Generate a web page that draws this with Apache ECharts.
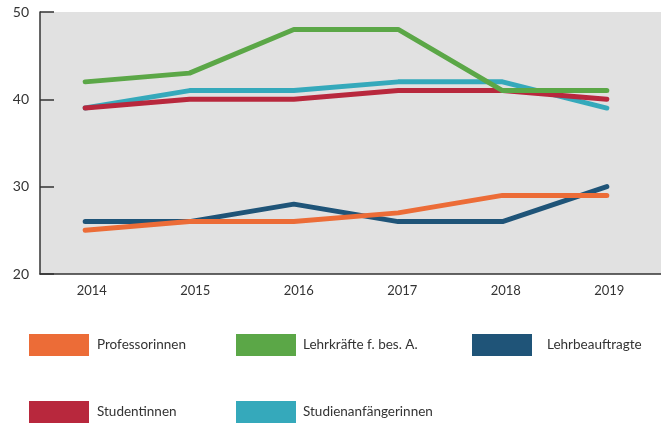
<!DOCTYPE html>
<html>
<head>
<meta charset="utf-8">
<script src="https://cdn.jsdelivr.net/npm/echarts@6/dist/echarts.min.js"></script>
<style>
  html, body { margin: 0; padding: 0; background: #fff; }
  #chart { width: 661px; height: 423px; }
</style>
</head>
<body>
<div id="chart"></div>
<script>
const years = ['2014', '2015', '2016', '2017', '2018', '2019']
const yTicks = [20, 30, 40, 50]

const professorinnen = [25, 26, 26, 27, 29, 29]
const lehrkraefte = [42, 43, 48, 48, 41, 41]
const lehrbeauftragte = [26, 26, 28, 26, 26, 30]
const studentinnen = [39, 40, 40, 41, 41, 40]
const studienanfaengerinnen = [39, 41, 41, 42, 42, 39]

const colors = {
  Professorinnen: '#ec6c37',
  'Lehrkräfte f. bes. A.': '#5ba747',
  Lehrbeauftragte: '#1f5478',
  Studentinnen: '#b8283d',
  'Studienanfängerinnen': '#35a9bb'
}

const font = 'Lato, "Open Sans", sans-serif'

// one line series
const line = (name, data, z) => ({
  name,
  type: 'line',
  data,
  xAxisIndex: 0,
  yAxisIndex: 0,
  z,
  symbol: 'none',
  color: colors[name],
  lineStyle: { width: 5, cap: 'round', join: 'round', color: colors[name] },
  itemStyle: { color: colors[name] }
})

// legend entries, placed one by one
const legendAt = (name, left, top, gap) => ({
  data: [{ name, icon: 'rect' }],
  left,
  top,
  padding: 0,
  itemWidth: 60,
  itemHeight: 22,
  textStyle: { fontFamily: font, fontSize: 13.5, color: '#333', padding: [0, 0, 0, gap] }
})

const option = {
  animation: false,
  grid: [
    // data grid, points centred as in the source
    { left: 33, right: 2, top: 12, bottom: 149 },
    // frame grid: gray panel, axes and ticks
    { left: 40, right: 0, top: 12, bottom: 149, show: true, backgroundColor: '#e1e1e1', borderWidth: 0 }
  ],
  xAxis: [
    {
      gridIndex: 0,
      type: 'category',
      data: years,
      boundaryGap: true,
      axisLine: { show: false },
      axisTick: { show: false },
      axisLabel: { show: false }
    },
    {
      gridIndex: 1,
      type: 'category',
      data: years,
      boundaryGap: true,
      axisLine: { lineStyle: { color: '#333', width: 1.5 } },
      axisTick: { inside: true, length: 7, lineStyle: { color: '#333', width: 1.5 } },
      axisLabel: { margin: 10, fontFamily: font, fontSize: 13, color: '#333' }
    }
  ],
  yAxis: [
    {
      gridIndex: 0,
      type: 'value',
      min: yTicks[0],
      max: yTicks[yTicks.length - 1],
      interval: 10,
      show: false
    },
    {
      gridIndex: 1,
      type: 'value',
      min: yTicks[0],
      max: yTicks[yTicks.length - 1],
      interval: 10,
      splitLine: { show: false },
      axisLine: { show: true, lineStyle: { color: '#333', width: 1.5 } },
      axisTick: { show: true, inside: true, length: 14, lineStyle: { color: '#333', width: 1.5 } },
      axisLabel: { margin: 11, fontFamily: font, fontSize: 14, color: '#333' }
    }
  ],
  legend: [
    legendAt('Professorinnen', 29, 334, 3),
    legendAt('Lehrkräfte f. bes. A.', 236, 334, 2),
    legendAt('Lehrbeauftragte', 472, 334, 10),
    legendAt('Studentinnen', 29, 401, 3),
    legendAt('Studienanfängerinnen', 236, 401, 2)
  ],
  series: [
    line('Lehrbeauftragte', lehrbeauftragte, 2),
    line('Professorinnen', professorinnen, 3),
    line('Studienanfängerinnen', studienanfaengerinnen, 4),
    line('Studentinnen', studentinnen, 5),
    line('Lehrkräfte f. bes. A.', lehrkraefte, 6)
  ]
}

const chart = echarts.init(document.getElementById('chart'))
chart.setOption(option)
</script>
</body>
</html>
